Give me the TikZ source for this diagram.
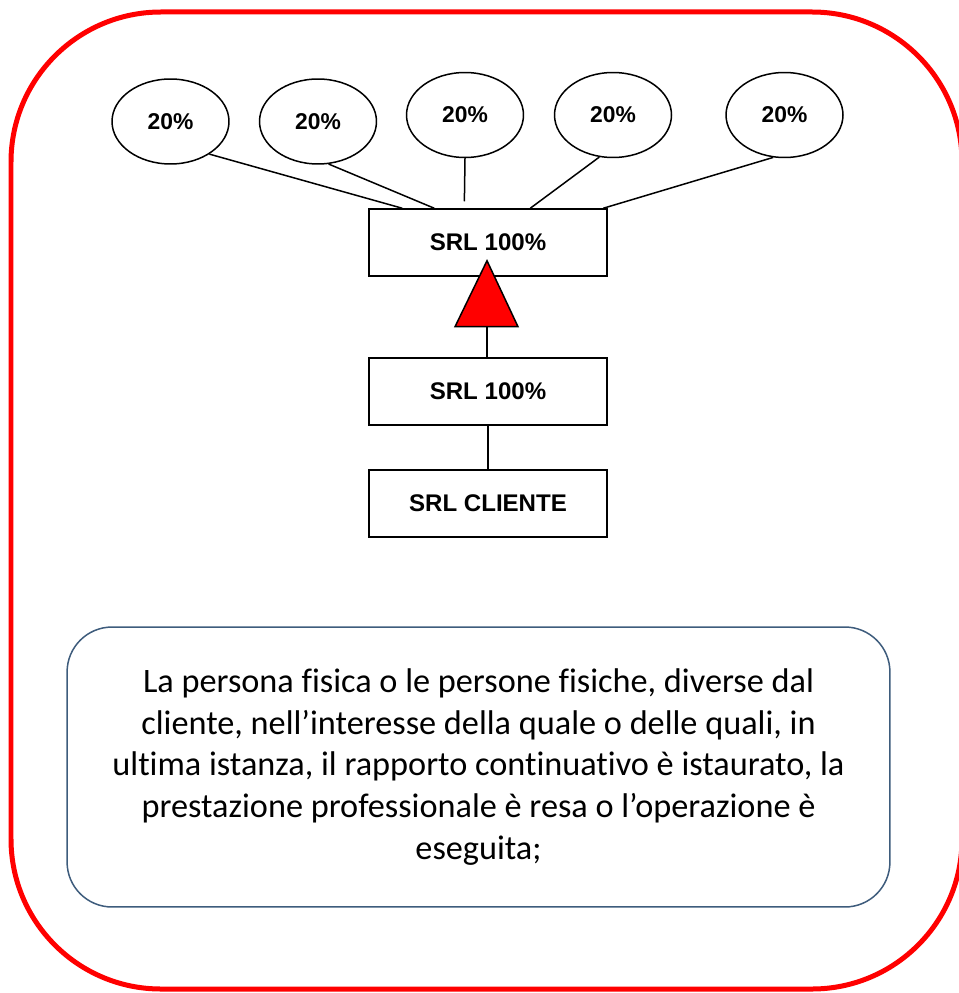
\documentclass[tikz,border=0pt]{standalone}
\usepackage{fontspec}
\setmainfont{Liberation Sans}
\newfontfamily\bodyfont[Ligatures=NoCommon]{Carlito}
\usepackage{tikz}
\usetikzlibrary{shapes.geometric,calc,positioning}
\definecolor{frame}{RGB}{255,0,0}
\definecolor{noteline}{RGB}{62,92,124}

\begin{document}
\begin{tikzpicture}[x=0.02cm, y=-0.02cm,
    share/.style={ellipse, draw=black, line width=0.3mm, minimum width=2.34cm, minimum height=1.7cm, inner sep=0pt, font=\fontsize{13}{15}\selectfont\bfseries},
    company/.style={rectangle, draw=black, line width=0.3mm, minimum width=4.76cm, minimum height=1.34cm, inner sep=0pt, font=\fontsize{13.7}{16}\selectfont\bfseries},
    link/.style={line width=0.3mm, black}]
    \useasboundingbox (0,0) rectangle (959,993);
    \clip (0,0) rectangle (959,993);

    % outer frame
    \draw[line width=0.1cm, frame, rounded corners=3cm] (11,12) rectangle (962,989);

    % shareholders
    \node[share] (e1) at (170.5,121.5) {20\%};
    \node[share] (e2) at (318,121.5) {20\%};
    \node[share] (e3) at (465,115) {20\%};
    \node[share] (e4) at (613,115) {20\%};
    \node[share] (e5) at (784.5,115) {20\%};

    % companies
    \node[company] (top1) at (488,242.5) {SRL 100\%};
    \node[company] (mid1) at (488,391.5) {SRL 100\%};
    \node[company] (client) at (488,503.5) {SRL CLIENTE};

    % links to the top company
    \draw[link] (e1.-40) -- ($(top1.north west)+(34,0)$);
    \draw[link] (e2.-76) -- ($(top1.north west)+(66,0)$);
    \draw[link, shorten >=0.14cm] (e3.south) -- ($(top1.north west)+(96,0)$);
    \draw[link] (e4.-108) -- ($(top1.north west)+(162,0)$);
    \draw[link] (e5.-105) -- ($(top1.north west)+(235,0)$);

    % red triangle
    \coordinate (apex) at ($(top1.south)+(-1,-16)$);
    \coordinate (base) at ($(apex)+(0,66)$);
    \filldraw[link, fill=red] (apex) -- ($(base)+(-32,0)$) -- ($(base)+(31,0)$) -- cycle;
    \draw[link] (base) -- (base |- mid1.north);
    \draw[link] (mid1.south) -- (client.north);

    % note
    \node[draw=noteline, line width=0.03cm, rounded corners=0.9cm, minimum width=16.46cm, minimum height=5.6cm,
          align=center, font=\bodyfont\fontsize{19.5}{23.7}\selectfont] (note) at (478.5,767)
        {La persona fisica o le persone fisiche, diverse dal\\
         cliente, nell’interesse della quale o delle quali, in\\
         ultima istanza, il rapporto continuativo è istaurato, la\\
         prestazione professionale è resa o l’operazione è\\
         eseguita;};
\end{tikzpicture}
\end{document}
